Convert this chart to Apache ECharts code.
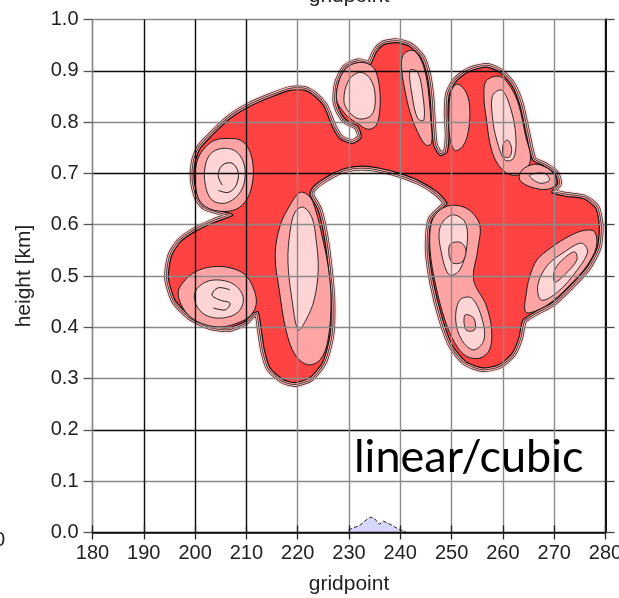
<!DOCTYPE html>
<html><head><meta charset="utf-8">
<script src="https://cdn.jsdelivr.net/npm/echarts@6.0.0/dist/echarts.min.js"></script>
<style>html,body{margin:0;padding:0;background:#fff;overflow:hidden}#c{width:619px;height:598px}</style>
</head><body><div id="c"></div>
<script>
// ---- axes ----
const X_MIN = 180, X_MAX = 280, X_STEP = 10;
const Y_MIN = 0, Y_MAX = 1, Y_STEP = 0.1;
const xTickLabels = ['180','190','200','210','220','230','240','250','260','270','280'];
const yTickLabels = ['0.0','0.1','0.2','0.3','0.4','0.5','0.6','0.7','0.8','0.9','1.0'];

// ---- outermost contour of the thermal (gridpoint, height km) ----
const outline = [[219.5,0.292],[217.2,0.298],[214.6,0.321],[213.5,0.356],[212.9,0.395],[212.3,0.430],[211.1,0.426],[209.6,0.411],[206.5,0.399],[203.0,0.403],[199.1,0.422],[196.1,0.453],[194.8,0.496],[195.4,0.539],[197.1,0.566],[200.2,0.588],[203.9,0.605],[207.4,0.619],[204.9,0.627],[202.0,0.636],[200.6,0.654],[199.8,0.687],[200.0,0.722],[201.0,0.749],[203.3,0.774],[206.8,0.807],[210.7,0.831],[214.6,0.848],[218.5,0.862],[221.4,0.862],[223.4,0.850],[225.1,0.831],[226.0,0.810],[226.8,0.790],[228.2,0.768],[230.6,0.758],[232.4,0.770],[231.7,0.792],[229.6,0.803],[228.4,0.818],[227.6,0.842],[227.9,0.875],[229.4,0.905],[231.8,0.916],[234.1,0.912],[235.3,0.936],[236.8,0.951],[239.3,0.955],[241.9,0.947],[244.0,0.926],[245.2,0.891],[245.8,0.848],[246.1,0.798],[246.5,0.755],[247.7,0.735],[249.1,0.741],[249.5,0.774],[249.3,0.817],[249.6,0.856],[251.0,0.881],[253.5,0.899],[256.8,0.907],[259.4,0.897],[261.7,0.872],[263.3,0.833],[264.6,0.774],[265.8,0.726],[268.1,0.714],[270.1,0.700],[270.7,0.681],[269.5,0.663],[272.0,0.656],[275.9,0.650],[278.1,0.632],[278.8,0.597],[278.4,0.556],[276.5,0.519],[273.6,0.486],[269.7,0.449],[266.2,0.430],[263.9,0.414],[263.1,0.379],[261.7,0.348],[259.2,0.327],[256.1,0.321],[252.8,0.333],[250.2,0.364],[248.3,0.414],[246.5,0.486],[245.6,0.554],[246.1,0.609],[248.3,0.632],[249.1,0.642],[247.3,0.663],[243.8,0.685],[239.9,0.700],[236.0,0.710],[232.5,0.714],[229.4,0.710],[226.9,0.700],[224.4,0.685],[222.8,0.671],[222.4,0.658],[224.0,0.628],[225.1,0.580],[225.9,0.521],[226.5,0.453],[226.3,0.385],[224.9,0.333],[222.4,0.302]];

// ---- vortex lobes (medium level) ----
const lobeUL = [[200.2,0.667],[200.0,0.702],[200.6,0.730],[202.0,0.751],[203.9,0.765],[206.5,0.768],[208.8,0.765],[210.4,0.749],[211.3,0.716],[211.1,0.677],[210.0,0.648],[208.0,0.630],[205.3,0.626],[202.6,0.632],[201.0,0.645]];
const lobeLL = [[197.7,0.488],[200.0,0.508],[203.3,0.518],[206.8,0.516],[209.8,0.502],[211.5,0.473],[211.9,0.444],[210.7,0.422],[208.4,0.409],[205.3,0.401],[202.0,0.405],[199.1,0.420],[197.3,0.444],[196.7,0.469]];
const lobeLI = [[220.5,0.663],[218.5,0.638],[216.6,0.599],[215.6,0.541],[216.4,0.473],[217.7,0.395],[219.5,0.346],[222.0,0.327],[224.4,0.337],[225.9,0.375],[226.5,0.453],[225.9,0.521],[224.7,0.580],[223.6,0.625],[222.4,0.654]];
const lobeA = [[227.6,0.842],[227.9,0.875],[229.4,0.905],[231.8,0.916],[234.1,0.912],[235.3,0.897],[236.0,0.862],[236.0,0.823],[235.3,0.794],[233.7,0.786],[231.6,0.798],[229.9,0.809],[228.7,0.823]];
const lobeB = [[240.5,0.930],[242.3,0.940],[243.8,0.926],[245.0,0.891],[245.6,0.848],[246.0,0.798],[246.1,0.759],[245.0,0.755],[243.4,0.780],[241.9,0.819],[240.9,0.862],[240.3,0.901]];
const lobeCL = [[249.6,0.774],[249.5,0.817],[249.8,0.856],[251.0,0.874],[252.6,0.862],[253.5,0.833],[253.3,0.784],[252.2,0.753],[250.6,0.745]];
const lobeCR = [[256.8,0.881],[259.4,0.889],[261.5,0.868],[263.1,0.833],[264.4,0.774],[265.4,0.730],[264.4,0.706],[262.1,0.696],[259.6,0.710],[257.8,0.745],[256.8,0.804],[256.3,0.852]];
const lobeD = [[263.7,0.706],[266.2,0.718],[268.7,0.710],[270.1,0.696],[270.3,0.679],[268.7,0.669],[265.6,0.673],[263.3,0.687]];
const lobeRI = [[246.1,0.605],[247.9,0.630],[250.6,0.638],[253.5,0.628],[255.5,0.599],[255.1,0.551],[254.3,0.492],[256.7,0.444],[257.8,0.395],[257.4,0.356],[255.5,0.340],[252.8,0.344],[250.6,0.370],[248.7,0.414],[246.9,0.482],[245.8,0.551]];
const lobeRA = [[265.2,0.498],[266.6,0.531],[269.5,0.556],[273.0,0.578],[275.9,0.589],[277.9,0.586],[278.2,0.556],[276.3,0.519],[273.4,0.486],[269.7,0.451],[266.4,0.432],[264.4,0.430],[264.6,0.469]];

// ---- lighter cores inside the lobes ----
const lightUL = [[202.0,0.677],[202.0,0.716],[203.3,0.741],[205.9,0.749],[208.2,0.741],[209.6,0.716],[209.6,0.683],[208.4,0.658],[205.9,0.642],[203.3,0.648]];
const lightLL = [[200.0,0.469],[202.0,0.488],[204.9,0.492],[207.8,0.482],[209.4,0.457],[208.4,0.430],[205.3,0.418],[202.0,0.424],[200.2,0.444]];
const lightLI = [[219.5,0.625],[221.1,0.634],[222.8,0.613],[223.6,0.570],[224.0,0.512],[223.2,0.453],[221.6,0.414],[220.1,0.395],[218.9,0.453],[218.1,0.527],[218.5,0.586]];
const lightA = [[229.0,0.842],[229.9,0.881],[232.1,0.897],[234.1,0.885],[235.1,0.852],[234.5,0.815],[232.1,0.806],[230.0,0.820]];
const lightB = [[241.9,0.901],[243.4,0.897],[244.4,0.852],[244.6,0.804],[243.4,0.807],[242.3,0.852]];
const lightCR = [[258.0,0.852],[259.8,0.862],[261.5,0.827],[262.5,0.774],[262.1,0.730],[260.4,0.726],[258.8,0.765],[258.0,0.807]];
const lightD = [[265.2,0.696],[268.1,0.700],[269.1,0.687],[267.2,0.681]];
const lightRIu = [[247.7,0.593],[250.0,0.619],[252.6,0.605],[253.0,0.560],[251.6,0.512],[249.6,0.502],[248.1,0.541]];
const lightRIl = [[251.6,0.453],[253.9,0.457],[255.9,0.418],[256.3,0.375],[254.3,0.356],[252.0,0.375],[250.8,0.414]];
const lightRA = [[266.8,0.482],[268.7,0.521],[272.0,0.547],[275.3,0.564],[276.5,0.547],[274.2,0.508],[270.7,0.469],[267.5,0.453]];

// ---- small medium cores ----
const coreCR = [[260.0,0.755],[260.9,0.765],[261.7,0.749],[261.3,0.732],[260.2,0.733]];
const coreRI1 = [[249.6,0.560],[251.6,0.566],[252.8,0.551],[252.0,0.527],[250.0,0.527]];
const coreRI2 = [[252.6,0.424],[254.3,0.418],[254.5,0.395],[252.8,0.395]];
const coreRA = [[270.1,0.512],[272.0,0.535],[274.0,0.547],[274.4,0.531],[272.0,0.502],[270.1,0.488]];

// ---- swirl contour lines ----
const swirlUL = [[205.3,0.677],[204.5,0.696],[205.3,0.716],[207.2,0.720],[208.4,0.702],[208.0,0.677],[206.5,0.663],[204.5,0.667]];
const swirlLL = [[206.8,0.473],[204.5,0.477],[203.3,0.463],[204.9,0.453],[206.8,0.447],[205.9,0.434],[203.5,0.438]];

// ---- surface bump (blue) ----
const bumpX = [229.9, 232.1, 233.4, 234.2, 235.0, 235.9, 236.7, 238.0, 239.6, 241.1];
const bumpY = [0.005, 0.014, 0.025, 0.030, 0.027, 0.016, 0.022, 0.016, 0.007, 0.001];

const lobesMid = [lobeUL, lobeLL, lobeLI, lobeA, lobeB, lobeCL, lobeCR, lobeD, lobeRI, lobeRA];
const lobesLight = [lightUL, lightLL, lightLI, lightA, lightB, lightCR, lightD, lightRIu, lightRIl, lightRA];
const lobeCores = [coreCR, coreRI1, coreRI2, coreRA];
const swirls = [swirlUL, swirlLL];

const RED = '#ff4343', MID = '#ffa4a4', LIGHT = '#ffd4d4';
const FONT = 'Liberation Sans, Arial, sans-serif';
const SMOOTH = 0.22;

function polySeries(polys, fill, lw, z, closed) {
  return {
    type: 'custom', coordinateSystem: 'cartesian2d', z: z, silent: true, clip: false,
    data: polys.map(p => p[0]),
    renderItem: (params, api) => {
      const pts = polys[params.dataIndex].map(p => api.coord(p));
      return {
        type: closed ? 'polygon' : 'polyline',
        shape: { points: pts, smooth: 0.35 },
        style: { fill: closed ? fill : 'none', stroke: '#1a1a1a', lineWidth: lw, lineJoin: 'round' }
      };
    }
  };
}

const outlineSeries = {
  type: 'custom', coordinateSystem: 'cartesian2d', z: 1, silent: true, clip: false,
  data: [outline[0]],
  renderItem: (params, api) => {
    const pts = outline.map(p => api.coord(p));
    const band = [[11, '#ffdede'], [8.4, '#2a2a2a'], [7, '#ffb8b8'], [4.8, '#2a2a2a'], [3.3, '#ff9a9a']];
    const children = band.map(([w, c]) => ({
      type: 'polygon', shape: { points: pts, smooth: SMOOTH },
      style: { fill: 'none', stroke: c, lineWidth: w, lineJoin: 'round' }
    }));
    children.push({ type: 'polygon', shape: { points: pts, smooth: SMOOTH },
      style: { fill: RED, stroke: '#111', lineWidth: 1.2, lineJoin: 'round' } });
    return { type: 'group', children };
  }
};

const GREY = '#8a8a8a', BLK = '#0a0a0a';
const xLineColors = [GREY, BLK, BLK, BLK, GREY, GREY, GREY, GREY, GREY, GREY, BLK];
const yLineColors = [BLK, GREY, BLK, GREY, GREY, GREY, GREY, BLK, GREY, BLK, GREY];

const chart = echarts.init(document.getElementById('c'), null, { renderer: 'canvas' });
chart.setOption({
  animation: false,
  backgroundColor: '#fff',
  grid: { left: 92.5, right: 13.5, top: 19.5, bottom: 65.5, outerBoundsMode: 'none', containLabel: false },
  xAxis: [{
    type: 'value', position: 'bottom', min: X_MIN, max: X_MAX, interval: X_STEP, z: 10,
    name: 'gridpoint', nameLocation: 'middle', nameGap: 41,
    nameTextStyle: { fontSize: 21, color: '#222', fontFamily: FONT },
    axisLine: { show: true, onZero: false, lineStyle: { color: '#111', width: 1.5 } },
    axisTick: { show: true, inside: false, length: 7, lineStyle: { color: '#222', width: 1.3 } },
    axisLabel: { show: true, fontSize: 20, color: '#222', fontFamily: FONT, margin: 11,
      formatter: v => xTickLabels[Math.round((v - X_MIN) / X_STEP)] },
    splitLine: { show: true, showMinLine: true, showMaxLine: true, lineStyle: { color: xLineColors, width: 1.4 } }
  }, {
    type: 'value', position: 'top', min: X_MIN, max: X_MAX, interval: X_STEP, z: 10,
    axisLine: { show: false },
    axisTick: { show: true, inside: false, length: 7, lineStyle: { color: '#222', width: 1.3 } },
    axisLabel: { show: false }, splitLine: { show: false }
  }],
  yAxis: [{
    type: 'value', position: 'left', min: Y_MIN, max: Y_MAX, interval: Y_STEP, z: 10,
    name: 'height [km]', nameLocation: 'middle', nameGap: 58,
    nameTextStyle: { fontSize: 21, color: '#222', fontFamily: FONT },
    axisLine: { show: true, onZero: false, lineStyle: { color: GREY, width: 1.4 } },
    axisTick: { show: true, inside: false, length: 9, lineStyle: { color: '#555', width: 1.3 } },
    axisLabel: { show: true, fontSize: 20, color: '#222', fontFamily: FONT, margin: 14,
      formatter: v => yTickLabels[Math.round((v - Y_MIN) / Y_STEP)] },
    splitLine: { show: true, showMinLine: true, showMaxLine: true, lineStyle: { color: yLineColors, width: 1.4 } }
  }, {
    type: 'value', position: 'right', min: Y_MIN, max: Y_MAX, interval: Y_STEP, z: 10,
    axisLine: { show: true, onZero: false, lineStyle: { color: '#111', width: 2 } },
    axisTick: { show: true, inside: false, length: 9, lineStyle: { color: '#444', width: 1.3 } },
    axisLabel: { show: false }, splitLine: { show: false }
  }],
  graphic: [
    { type: 'text', silent: true, style: { text: 'gridpoint', x: 349, y: 7, align: 'center', verticalAlign: 'bottom', fontSize: 21, fontFamily: FONT, fill: '#222' } },
    { type: 'text', silent: true, style: { text: '0', x: 5, y: 540, align: 'right', verticalAlign: 'middle', fontSize: 20, fontFamily: FONT, fill: '#222' } },
    { type: 'text', silent: true, z: 100, style: { text: 'linear/cubic', x: 354, y: 457, align: 'left', verticalAlign: 'middle', fontSize: 45, fontFamily: 'Lato, Liberation Sans, sans-serif', fill: '#000' } }
  ],
  series: [
    outlineSeries,
    polySeries(lobesMid, MID, 1, 2, true),
    polySeries(lobesLight, LIGHT, 0.9, 3, true),
    polySeries(lobeCores, MID, 0.9, 4, true),
    polySeries(swirls, 'none', 1, 5, false),
    {
      type: 'line', z: 2, symbol: 'none', silent: true,
      data: bumpX.map((x, i) => [x, bumpY[i]]),
      lineStyle: { color: '#222', width: 1, type: 'dashed' },
      areaStyle: { color: '#d7d7fb', opacity: 1 }
    }
  ]
});
</script>
</body></html>
